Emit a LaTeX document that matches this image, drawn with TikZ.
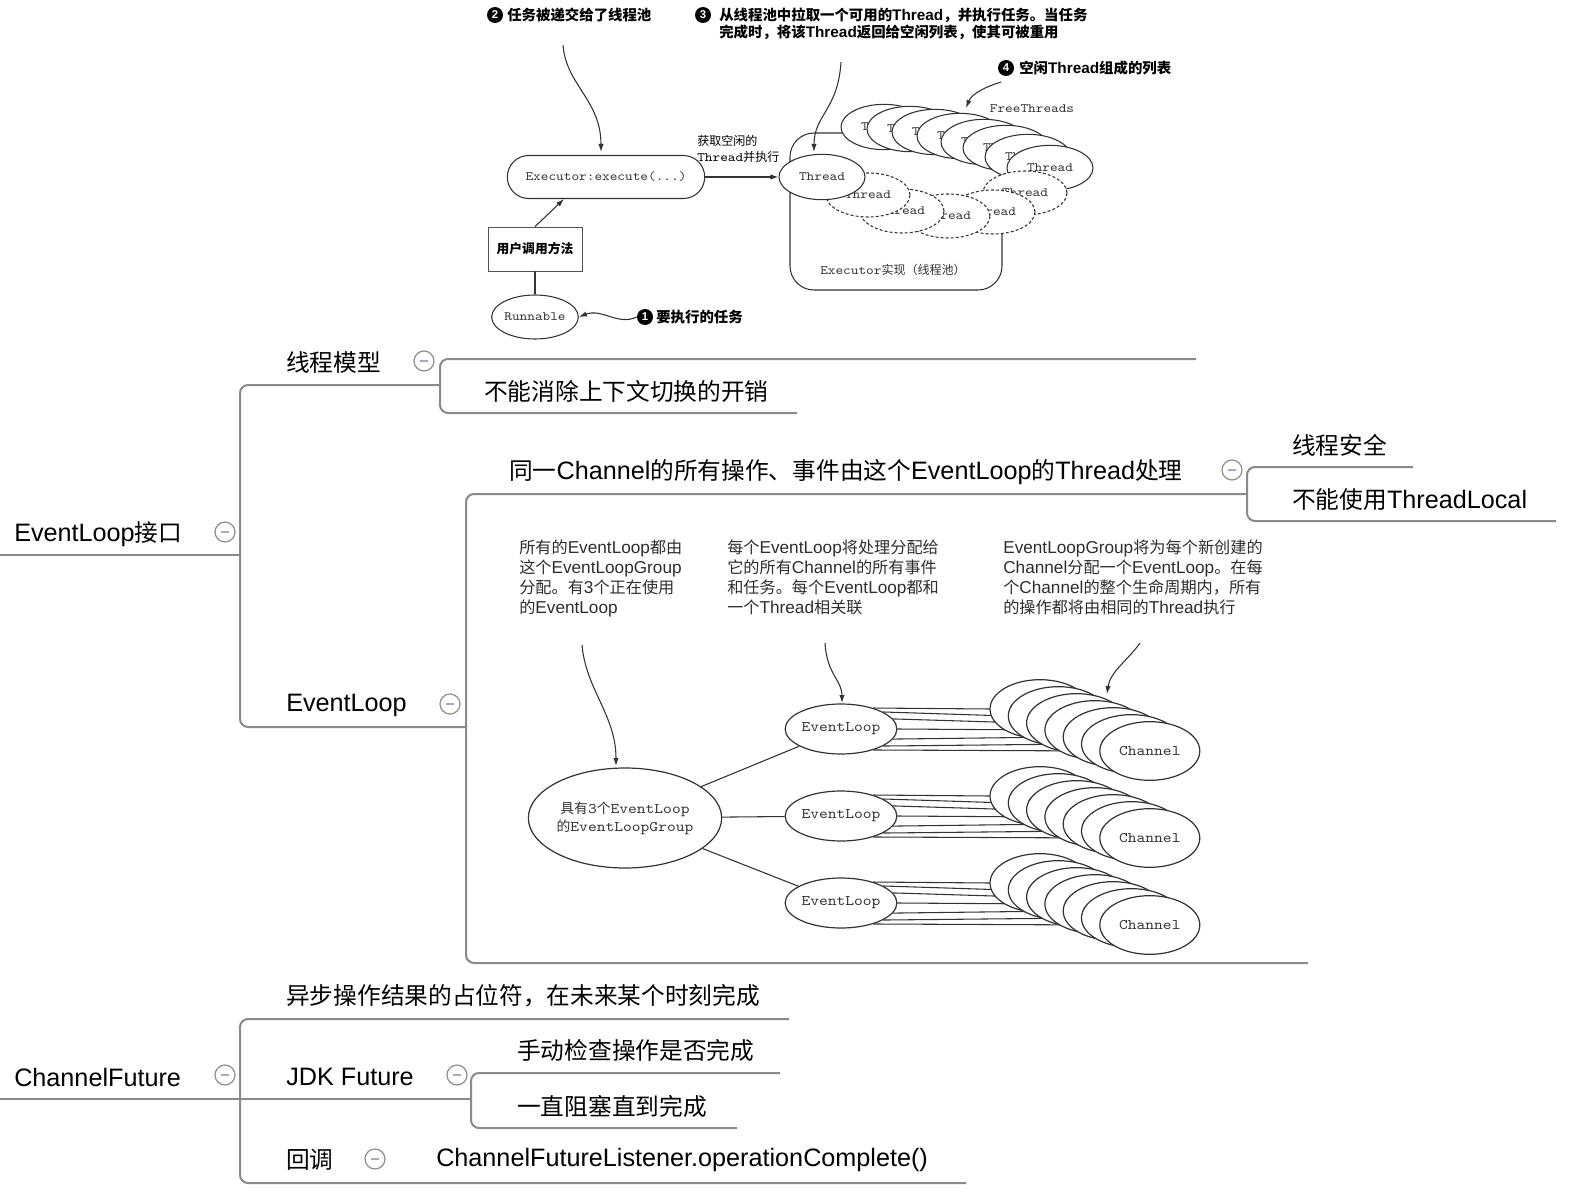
\documentclass[tikz,border=0pt]{standalone}
\usepackage{fontspec}
\setmainfont{Liberation Sans}
\setmonofont[FakeStretch=1.14]{lmmono10-regular.otf}
\newfontfamily\cjk[Scale=0.94]{Noto Sans CJK SC}
\usetikzlibrary{shapes.geometric,arrows.meta}
\makeatletter
\newif\ifcjkmode
\def\cjksavedfam{\familydefault}
\def\cjkon{\ifcjkmode\else\edef\cjksavedfam{\f@family}\cjk\cjkmodetrue\fi}
\def\cjkoff{\ifcjkmode\fontfamily{\cjksavedfam}\selectfont\cjkmodefalse\fi}
\makeatother
\newXeTeXintercharclass\CJKcls
\newcount\cjkcnt
\def\setcjkrange#1#2{\cjkcnt=#1\relax\loop\XeTeXcharclass\cjkcnt=\CJKcls\relax\advance\cjkcnt by 1\relax\ifnum\cjkcnt<#2\relax\repeat}
\setcjkrange{"4E00}{"A000}
\setcjkrange{"3000}{"3040}
\setcjkrange{"FF00}{"FFF0}
\XeTeXinterchartoks 0 \CJKcls = {\cjkon}
\XeTeXinterchartoks 4095 \CJKcls = {\cjkon}
\XeTeXinterchartoks \CJKcls 0 = {\cjkoff}
\XeTeXinterchartoks \CJKcls 4095 = {\cjkoff}
\XeTeXinterchartokenstate=1
\definecolor{lgray}{HTML}{8A8A8A}
\definecolor{cgray}{HTML}{8E8E8E}
\definecolor{mblue}{HTML}{A3ABC8}
\definecolor{dk}{HTML}{333333}
\definecolor{txt2}{HTML}{2E2E2E}
\begin{document}
\begin{tikzpicture}[x=0.75pt,y=-0.75pt,
  mline/.style={draw=lgray,line width=1.5pt,rounded corners=6pt},
  mtxt/.style={anchor=west,inner sep=0pt,text=black,font=\fontsize{18.9}{22}\selectfont},
  coll/.style={circle,draw=cgray,line width=0.9pt,fill=white,minimum size=15pt,inner sep=0pt,
    path picture={\draw[mblue,line width=1.6pt] ([xshift=-3.3pt]path picture bounding box.center) -- ([xshift=3.3pt]path picture bounding box.center);}},
  dline/.style={draw=dk,line width=0.8pt},
  arr/.style={dline,-{Latex[length=6pt,width=4pt]}},
  monoa/.style={font=\ttfamily\fontsize{9.6}{12}\selectfont},
  thr/.style={ellipse,draw=dk,line width=0.8pt,fill=white,minimum width=64.5pt,minimum height=34pt,inner sep=0pt,text=dk,monoa},
  dthr/.style={thr,dash pattern=on 2.2pt off 1.6pt,minimum width=63pt,minimum height=33pt},
  badge/.style={circle,fill=black,text=white,inner sep=0pt,minimum size=12pt,font=\bfseries\fontsize{8.5}{9}\selectfont},
  ann/.style={anchor=west,inner sep=0pt,text=black,font=\bfseries\fontsize{11.5}{13}\selectfont},
  evl/.style={ellipse,draw=dk,line width=0.9pt,fill=white,minimum width=69pt,minimum height=37.5pt,inner sep=0pt,text=dk,font=\ttfamily\fontsize{11}{13}\selectfont},
  chan/.style={evl,minimum width=75pt,minimum height=44pt},
  desc/.style={anchor=north west,align=left,inner sep=0pt,text=txt2,font=\fontsize{12.9}{15}\selectfont}
]
\fill[white] (0,0) rectangle (1578,1202);
\useasboundingbox (0,0) rectangle (1578,1202);

% ---------------- mind map lines
\draw[mline] (0,555) -- (240,555);
\draw[mline] (440,385) -- (240,385) -- (240,727) -- (466,727);
\draw[mline] (1196,359) -- (440,359) -- (440,413) -- (797,413);
\draw[mline] (1247,494) -- (466,494) -- (466,963) -- (1308,963);
\draw[mline] (1413,467) -- (1247,467) -- (1247,521) -- (1556,521);
\draw[mline] (0,1099) -- (471,1099);
\draw[mline] (789,1019) -- (240,1019) -- (240,1183) -- (966,1183);
\draw[mline] (780,1073) -- (471,1073) -- (471,1128) -- (737,1128);

% ---------------- mind map texts
\node[mtxt] (r1) at (14,534) {EventLoop接口};
\node[coll] (r1c) at (225,532) {};
\node[mtxt] (tm) at (286,362) {线程模型};
\node[coll] (tmc) at (424,361) {};
\node[mtxt] (tm1) at (484,391) {不能消除上下文切换的开销};
\node[mtxt] (evt) at (286,705) {EventLoop};
\node[coll] (evtc) at (450,704) {};
\node[mtxt] (same) at (509,472) {同一Channel的所有操作、事件由这个EventLoop的Thread处理};
\node[coll] (samec) at (1232,470) {};
\node[mtxt] (safe) at (1292,445) {线程安全};
\node[mtxt] (notl) at (1292,500) {不能使用ThreadLocal};
\node[mtxt] (r2) at (14,1077) {ChannelFuture};
\node[coll] (r2c) at (225,1075) {};
\node[mtxt] (async) at (286,996) {异步操作结果的占位符，在未来某个时刻完成};
\node[mtxt] (jdk) at (286,1077) {JDK Future};
\node[coll] (jdkc) at (457,1075) {};
\node[mtxt] (jdk1) at (517,1050) {手动检查操作是否完成};
\node[mtxt] (jdk2) at (517,1106) {一直阻塞直到完成};
\node[mtxt] (cb) at (286,1160) {回调};
\node[coll] (cbc) at (375,1159) {};
\node[mtxt] (cb1) at (436,1160) {ChannelFutureListener.operationComplete()};

% ---------------- image 1: thread pool
\node[draw=dk,line width=0.8pt,fill=white,rounded corners=18pt,minimum width=159pt,minimum height=117.75pt,inner sep=0pt] (pool) at (896,211.5) {};
\node[monoa,text=dk,inner sep=0pt] (poollbl) at (893,270) {Executor实现（线程池）};
\foreach \x/\y [count=\i] in {884/127,910/129,935/132,960/136,984/142,1006/148,1028/157,1050/168}
  \node[thr] (ft\i) at (\x,\y) {Thread};
\foreach \x/\y [count=\i] in {1025/193,993/212,948/216,902/211,868/195}
  \node[dthr] (dt\i) at (\x,\y) {Thread};
\node[thr] (thr0) at (822,177) {Thread};
\node[monoa,text=dk,inner sep=0pt] (freelbl) at (1032,109) {FreeThreads};
\node[draw=dk,line width=0.8pt,fill=white,rounded corners=16pt,minimum width=148pt,minimum height=32.25pt,inner sep=0pt,monoa,text=dk] (exec) at (606,177) {Executor:execute(...)};
\draw[arr] (exec) -- (thr0);
\node[monoa,text=black,anchor=west,align=left,inner sep=0pt] (getlbl) at (697,149) {获取空闲的\\Thread并执行};
\node[draw=dk!85,line width=0.65pt,fill=white,minimum width=70.5pt,minimum height=33pt,inner sep=0pt,font=\bfseries\fontsize{10.2}{12}\selectfont] (user) at (535,249) {用户调用方法};
\draw[arr] (user.north) -- ([xshift=-31.5pt]exec.south);
\node[thr,minimum width=64.5pt,minimum height=33pt] (run) at (535,317) {Runnable};
\draw[dline] (user) -- (run);
\node[badge] (b1) at (645,317) {1};
\node[ann] (t1) at (656,317) {要执行的任务};
\draw[arr] (b1.west) .. controls (618,326) and (602,308) .. (run.east);
\node[badge] (b2) at (495,15) {2};
\node[ann] (t2) at (507,15) {任务被递交给了线程池};
\node[badge] (b3) at (703,15) {3};
\node[ann] (t3) at (719,15) {从线程池中拉取一个可用的Thread，并执行任务。当任务};
\node[ann] (t3b) at (719,32) {完成时，将该Thread返回给空闲列表，使其可被重用};
\node[badge] (b4) at (1006,68) {4};
\node[ann] (t4) at (1019,68) {空闲Thread组成的列表};
\coordinate (a2s) at (563,45); \coordinate (a2e) at (601,152);
\draw[arr] (a2s) .. controls (566,85) and (601,100) .. (a2e);
\coordinate (a3s) at (841,62); \coordinate (a3e) at (814,152);
\draw[arr] (a3s) .. controls (838,110) and (814,115) .. (a3e);
\coordinate (a4s) at (1001,82); \coordinate (a4e) at (966,108);
\draw[arr] (a4s) .. controls (988,86) and (972,93) .. (a4e);

% ---------------- image 2: event loops
\node[desc] (d1) at (519,540) {所有的EventLoop都由\\这个EventLoopGroup\\分配。有3个正在使用\\的EventLoop};
\node[desc] (d2) at (727,540) {每个EventLoop将处理分配给\\它的所有Channel的所有事件\\和任务。每个EventLoop都和\\一个Thread相关联};
\node[desc] (d3) at (1003,540) {EventLoopGroup将为每个新创建的\\Channel分配一个EventLoop。在每\\个Channel的整个生命周期内，所有\\的操作都将由相同的Thread执行};
\node[evl,minimum width=141pt,minimum height=75pt,align=center,font=\ttfamily\fontsize{11}{13.5}\selectfont] (grp) at (625,818) {具有3个EventLoop\\的EventLoopGroup};
\coordinate (p1s) at (582,645); \coordinate (p1e) at (616,766);
\draw[arr] (p1s) .. controls (586,690) and (616,715) .. (p1e);
\coordinate (p2s) at (825,643); \coordinate (p2e) at (842,703);
\draw[arr] (p2s) .. controls (827,675) and (842,680) .. (p2e);
\coordinate (p3s) at (1140,643); \coordinate (p3e) at (1107,694);
\draw[arr] (p3s) .. controls (1128,660) and (1110,672) .. (p3e);
\foreach \k/\dy in {1/0,2/87,3/174} {
  \node[evl] (ev\k) at (841,729+\dy) {EventLoop};
  \draw[dline] (grp) -- (ev\k);
  \foreach \i in {1,...,7} {
    \pgfmathsetmacro\cx{1040+(\i-1)*18.3}
    \pgfmathsetmacro\cy{709+(\i-1)*7+\dy}
    \pgfmathtruncatemacro\an{33-(\i-1)*11}
    \coordinate (chw\k-\i) at (\cx-50,\cy);
    \draw[dline] (ev\k.\an) -- (chw\k-\i);
  }
  \foreach \i in {1,...,7} {
    \pgfmathsetmacro\cx{1040+(\i-1)*18.3}
    \pgfmathsetmacro\cy{709+(\i-1)*7+\dy}
    \node[chan] (ch\k-\i) at (\cx,\cy) {Channel};
  }
}
\end{tikzpicture}
\end{document}
